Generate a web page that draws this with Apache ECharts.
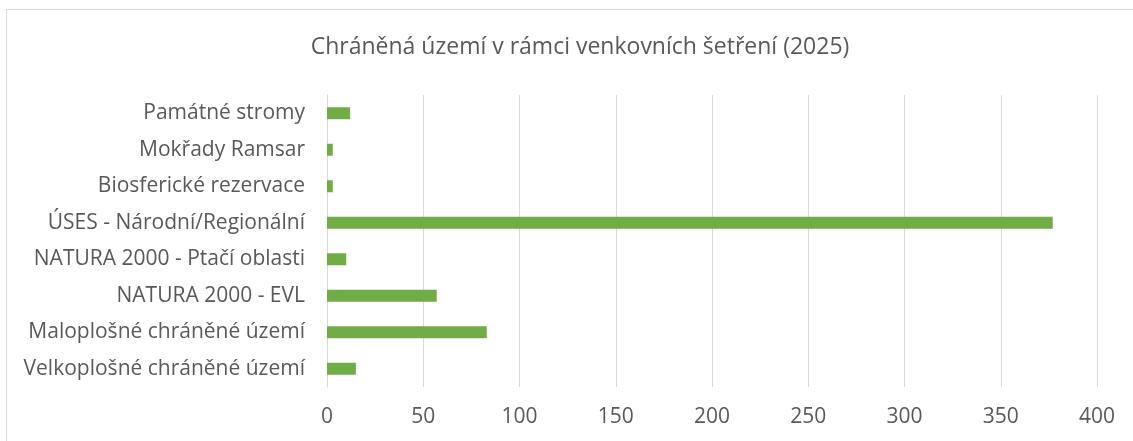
<!DOCTYPE html>
<html>
<head>
<meta charset="utf-8">
<script src="https://cdn.jsdelivr.net/npm/echarts@6/dist/echarts.min.js"></script>
<style>
html,body{margin:0;padding:0;background:#fff;}
#c{width:1133px;height:441px;}
</style>
</head>
<body>
<div id="c"></div>
<script>
const titleText = 'Chráněná území v rámci venkovních šetření (2025)';
const categories = [
  'Velkoplošné chráněné území',
  'Maloplošné chráněné území',
  'NATURA 2000 - EVL',
  'NATURA 2000 - Ptačí oblasti',
  'ÚSES - Národní/Regionální',
  'Biosferické rezervace',
  'Mokřady Ramsar',
  'Památné stromy'
];
const values = [15, 83, 57, 10, 377, 3, 3, 12];
const xTicks = { min: 0, max: 400, interval: 50 };

const chart = echarts.init(document.getElementById('c'), null, {renderer: 'canvas'});
const font = '"Open Sans", "Noto Sans", sans-serif';
chart.setOption({
  backgroundColor: '#ffffff',
  animation: false,
  graphic: [{
    type: 'rect',
    shape: {x: 6.5, y: 9.5, width: 1200, height: 500},
    style: {fill: 'none', stroke: '#d9d9d9', lineWidth: 1},
    silent: true
  }],
  title: {
    text: titleText,
    left: 575,
    top: 31,
    textAlign: 'center',
    textStyle: {fontFamily: font, fontSize: 23, fontWeight: 'normal', color: '#595959'}
  },
  grid: {left: 327, right: 36, top: 95, bottom: 54, containLabel: false},
  xAxis: {
    type: 'value',
    min: xTicks.min,
    max: xTicks.max,
    interval: xTicks.interval,
    axisLine: {show: false},
    axisTick: {show: false},
    splitLine: {show: true, lineStyle: {color: '#d9d9d9', width: 1}},
    axisLabel: {fontFamily: font, fontSize: 21, color: '#595959', margin: 20}
  },
  yAxis: {
    type: 'category',
    data: categories,
    axisLine: {show: true, lineStyle: {color: '#d9d9d9', width: 1}},
    axisTick: {show: false},
    axisLabel: {fontFamily: font, fontSize: 21, color: '#595959', margin: 22}
  },
  series: [{
    type: 'bar',
    data: values,
    barWidth: 12,
    itemStyle: {color: '#70ad47'}
  }]
});
</script>
</body>
</html>
